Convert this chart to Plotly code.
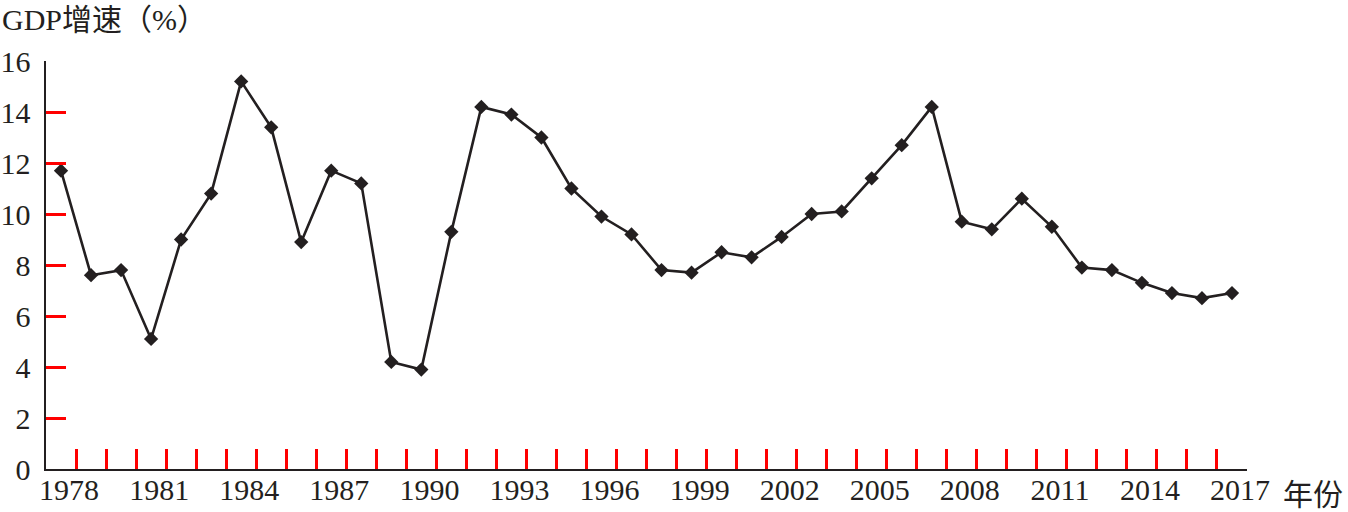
import plotly.graph_objects as go

# data
years = list(range(1978, 2018))
gdp_growth = [11.7, 7.6, 7.8, 5.1, 9.0, 10.8, 15.2, 13.4, 8.9, 11.7,
              11.2, 4.2, 3.9, 9.3, 14.2, 13.9, 13.0, 11.0, 9.9, 9.2,
              7.8, 7.7, 8.5, 8.3, 9.1, 10.0, 10.1, 11.4, 12.7, 14.2,
              9.7, 9.4, 10.6, 9.5, 7.9, 7.8, 7.3, 6.9, 6.7, 6.9]
label_years = list(range(1978, 2018, 3))
y_max, y_step = 16, 2

FONT = "Liberation Serif, Times New Roman, Noto Sans CJK SC, serif"
INK = "#231f20"
TICK = "red"  # temporary, to check that the inside ticks are drawn

fig = go.Figure()

# line with diamond markers
fig.add_trace(go.Scatter(
    x=years, y=gdp_growth,
    mode="lines+markers",
    line=dict(color=INK, width=2.6),
    marker=dict(symbol="diamond", size=11, color=INK),
    showlegend=False, hoverinfo="x+y"
))

# same points on the overlay axis that carries the year labels (invisible)
fig.add_trace(go.Scatter(
    x=years, y=gdp_growth, xaxis="x2",
    mode="markers", marker=dict(opacity=0), showlegend=False, hoverinfo="skip"
))

x_range = [years[0] - 0.5, years[-1] + 0.5]

fig.update_layout(
    template="simple_white",
    width=1348, height=512,
    margin=dict(l=46, r=101, t=61, b=43),
    font=dict(family=FONT, size=30, color=INK),
    # main x axis: line plus boundary ticks between years
    xaxis=dict(
        range=x_range, automargin=False,
        tickmode="linear", tick0=years[0] + 0.5, dtick=1,
        showticklabels=False,
        ticks="inside", ticklen=20, tickwidth=3, tickcolor=TICK,
        showline=True, linecolor=INK, linewidth=2,
    ),
    # overlay x axis: year labels only
    xaxis2=dict(
        range=x_range, automargin=False, overlaying="x", anchor="y", side="bottom",
        tickmode="array",
        tickvals=[y + 0.27 for y in label_years],
        ticktext=[str(y) for y in label_years],
        ticks="", showline=False,
        tickfont=dict(family=FONT, size=30, color=INK),
    ),
    yaxis=dict(
        range=[0, y_max], automargin=False,
        tickmode="linear", tick0=0, dtick=y_step, ticksuffix=" ",
        ticks="inside", ticklen=20, tickwidth=3, tickcolor=TICK,
        showline=True, linecolor=INK, linewidth=2,
        tickfont=dict(family=FONT, size=30, color=INK),
    ),
    annotations=[
        dict(text="GDP增速（%）", xref="paper", yref="paper",
             x=-46 / 1201, y=1 + 41 / 408, xanchor="left", yanchor="middle",
             showarrow=False, font=dict(family=FONT, size=30, color=INK)),
        dict(text="年份", xref="paper", yref="paper",
             x=1 + 34 / 1201, y=-25 / 408, xanchor="left", yanchor="middle",
             showarrow=False, font=dict(family=FONT, size=30, color=INK)),
    ],
)

# drop the default 8px body margin so the figure fills the window exactly
fig.write_html("out.html", config={"displayModeBar": False},
               post_script="document.body.style.margin='0';")
